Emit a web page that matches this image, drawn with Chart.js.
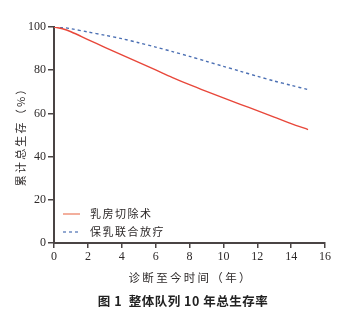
<!DOCTYPE html>
<html>
<head>
<meta charset="utf-8">
<script src="https://cdn.jsdelivr.net/npm/chart.js@4.4.1/dist/chart.umd.min.js"></script>
<style>
  html, body { margin: 0; padding: 0; background: #fff; }
  #wrap { position: relative; width: 354px; height: 323px; }
  #caption {
    position: absolute; left: 0; width: 354px; top: 291px;
    text-align: center; font: bold 12.5px "Noto Sans CJK SC", sans-serif;
    color: #222; letter-spacing: 0.5px; padding-left: 12px; box-sizing: border-box;
  }
</style>
</head>
<body>
<div id="wrap">
  <canvas id="survChart" width="354" height="323"></canvas>
  <div id="caption">图 1&nbsp; 整体队列 10 年总生存率</div>
</div>
<script>
// 随访年数
var nian = [0, 0.5, 1, 2, 3, 4, 5, 6, 7, 8, 9, 10, 11, 12, 13, 14, 15];
// 乳房切除术 累计总生存 (%)
var qiechu = [100, 99.2, 97.8, 94.2, 90.6, 87.1, 83.6, 80.1, 76.6, 73.3, 70.2, 67.2, 64.2, 61.3, 58.3, 55.3, 52.5];
// 保乳联合放疗 累计总生存 (%)
var baoru = [100, 99.8, 99.2, 97.7, 96.2, 94.6, 92.7, 90.7, 88.6, 86.4, 84.1, 81.8, 79.5, 77.2, 75.0, 73.0, 71.0];
var xTicks = [0, 2, 4, 6, 8, 10, 12, 14, 16];
var yTicks = [0, 20, 40, 60, 80, 100];

var axisColor = '#4a4444';
var labelColor = '#2e2a2a';

function pts(xs, ys) {
  var out = [];
  for (let i = 0; i < xs.length; i++) {
    out.push({x: xs[i], y: ys[i]});
  }
  return out;
}

// 字间加细空格，标题排得疏一点
function spaced(s, gap) {
  return Array.from(s).join(gap);
}

// 图例画在坐标区左下角
var innerLegend = {
  id: 'innerLegend',
  afterDraw: function(chart) {
    var ctx = chart.ctx;
    var area = chart.chartArea;
    var x0 = area.left + 9;
    var rows = [area.bottom - 29, area.bottom - 11];
    ctx.save();
    chart.data.datasets.forEach(function(ds, i) {
      var y = rows[i];
      ctx.strokeStyle = ds.legendColor || ds.borderColor;
      ctx.lineWidth = 1.2;
      ctx.setLineDash(ds.borderDash || []);
      ctx.beginPath();
      ctx.moveTo(x0, y);
      ctx.lineTo(x0 + 17, y);
      ctx.stroke();
      ctx.setLineDash([]);
      ctx.fillStyle = labelColor;
      ctx.font = '11px "Noto Sans CJK SC"';
      ctx.letterSpacing = '1.5px';
      ctx.textBaseline = 'middle';
      ctx.fillText(ds.label, x0 + 27, y);
    });
    ctx.restore();
  }
};

var ctx = document.getElementById('survChart').getContext('2d');
new Chart(ctx, {
  type: 'line',
  data: {
    datasets: [
      {
        label: '乳房切除术',
        data: pts(nian, qiechu),
        borderColor: '#e8473a',
        legendColor: '#eb7a5c',
        borderWidth: 1.4,
        pointRadius: 0,
        tension: 0.3,
        fill: false
      },
      {
        label: '保乳联合放疗',
        data: pts(nian, baoru),
        borderColor: '#4b6fb3',
        borderWidth: 1.4,
        borderDash: [3, 3],
        pointRadius: 0,
        tension: 0.3,
        fill: false
      }
    ]
  },
  options: {
    responsive: false,
    animation: false,
    layout: { padding: { left: 0, top: 27, right: 29, bottom: 0 } },
    plugins: {
      legend: { display: false },
      tooltip: { enabled: false }
    },
    scales: {
      x: {
        type: 'linear',
        min: 0,
        max: 16,
        afterFit: function(scale) { scale.height = 80; },
        afterBuildTicks: function(scale) {
          scale.ticks = xTicks.map(function(v) { return {value: v}; });
        },
        border: { color: axisColor, width: 2 },
        grid: { display: true, drawOnChartArea: false, drawTicks: true, tickLength: 5, color: axisColor, lineWidth: 1.5 },
        ticks: { color: labelColor, padding: 2, font: { family: '"Liberation Serif", serif', size: 12 }, maxRotation: 0 },
        title: {
          display: true,
          text: spaced('诊断至今时间（年）', '\u2009'),
          color: labelColor,
          font: { family: '"Noto Sans CJK SC"', size: 11.5 },
          padding: { top: 0, bottom: 38 }
        }
      },
      y: {
        min: 0,
        max: 100,
        afterFit: function(scale) { scale.width = 54; },
        afterBuildTicks: function(scale) {
          scale.ticks = yTicks.map(function(v) { return {value: v}; });
        },
        border: { color: axisColor, width: 2 },
        grid: { display: true, drawOnChartArea: false, drawTicks: true, tickLength: 6, color: axisColor, lineWidth: 1.5 },
        ticks: { color: labelColor, padding: 2, font: { family: '"Liberation Serif", serif', size: 12 } },
        title: {
          display: true,
          text: spaced('累计总生存（%）', '\u2009'),
          color: labelColor,
          font: { family: '"Noto Sans CJK SC"', size: 11 },
          padding: { top: 14, bottom: 0 }
        }
      }
    }
  },
  plugins: [innerLegend]
});
</script>
</body>
</html>
